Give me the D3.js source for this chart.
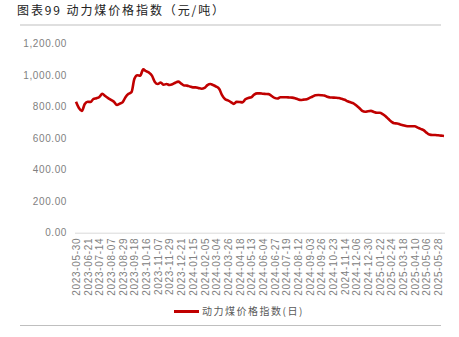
<!DOCTYPE html>
<html>
<head>
<meta charset="utf-8">
<script src="https://cdn.jsdelivr.net/npm/d3@7"></script>
<style>
  body { margin: 0; background: #fff; }
  svg { display: block; }
</style>
</head>
<body>
<script>
'use strict';

// tick labels on the category axis (every 4th data point)
const tickLabels = [
  '2023-05-30', '2023-06-21', '2023-07-14', '2023-08-07', '2023-08-29', '2023-09-18',
  '2023-10-16', '2023-11-07', '2023-11-29', '2023-12-21', '2024-01-15', '2024-02-05',
  '2024-03-04', '2024-03-26', '2024-04-18', '2024-05-13', '2024-06-04', '2024-06-27',
  '2024-07-19', '2024-08-12', '2024-09-03', '2024-09-26', '2024-10-23', '2024-11-14',
  '2024-12-06', '2024-12-30', '2025-01-22', '2025-02-24', '2025-03-18', '2025-04-10',
  '2025-05-06', '2025-05-28'
];
const tickStep = 4;

// 动力煤价格指数 (元/吨)
const coalIndex = [
  830, 790, 772, 815, 830, 828, 848, 852, 860, 880,
  866, 853, 842, 830, 809, 818, 828, 860, 880, 890,
  975, 998, 995, 1035, 1023, 1014, 995, 955, 942, 952,
  937, 942, 936, 940, 950, 957, 945, 933, 932, 926,
  921, 921, 916, 912, 917, 935, 942, 935, 926, 912,
  872, 847, 838, 828, 816, 829, 828, 826, 845, 854,
  858, 875, 883, 883, 880, 879, 878, 866, 854, 850,
  858, 858, 858, 857, 856, 852, 845, 841, 843, 845,
  854, 863, 871, 872, 871, 869, 861, 857, 856, 855,
  853, 848, 842, 833, 826, 820, 806, 790, 772, 766,
  770, 772, 765, 760, 760, 752, 738, 720, 703, 693,
  692, 686, 681, 676, 674, 674, 674, 666, 658, 650,
  634, 622, 619, 619, 617, 615, 613
];
const yTicks = [0, 200, 400, 600, 800, 1000, 1200];
const seriesName = '动力煤价格指数(日)';
const title = '图表99  动力煤价格指数（元/吨）';

const W = 459, H = 337;
const svg = d3.select('body').append('svg')
  .attr('width', W)
  .attr('height', H);

// title and frame lines
svg.append('text')
  .attr('x', 17)
  .attr('y', 14.5)
  .style('font-family', '"Noto Sans CJK SC", sans-serif')
  .style('font-size', '12px')
  .style('letter-spacing', '1.9px')
  .attr('fill', '#222')
  .text(title);

svg.append('line')
  .attr('x1', 20).attr('x2', 441)
  .attr('y1', 25).attr('y2', 25)
  .attr('stroke', '#bfbfbf').attr('stroke-width', 1);

svg.append('line')
  .attr('x1', 20).attr('x2', 441)
  .attr('y1', 325.5).attr('y2', 325.5)
  .attr('stroke', '#bfbfbf').attr('stroke-width', 1);

// scales
const x = d3.scaleLinear()
  .domain([0, coalIndex.length - 1])
  .range([76, 444]);

const y = d3.scaleLinear()
  .domain([0, 1200])
  .range([232.7, 43.3]);

// y axis (labels only)
const yAxis = d3.axisLeft(y)
  .tickValues(yTicks)
  .tickSize(0)
  .tickPadding(0)
  .tickFormat(d3.format(',.2f'));

const gy = svg.append('g')
  .attr('transform', 'translate(67,0)')
  .call(yAxis);
gy.select('.domain').remove();
gy.selectAll('text')
  .attr('fill', '#7f7f7f')
  .style('font-family', '"Liberation Sans", Arial, sans-serif')
  .style('font-size', '10px')
  .style('letter-spacing', '0.6px');

// x axis
const xAxis = d3.axisBottom(x)
  .tickValues(tickLabels.map((d, i) => i * tickStep))
  .tickSize(0)
  .tickPadding(0)
  .tickFormat((d) => tickLabels[d / tickStep]);

const gx = svg.append('g')
  .attr('transform', 'translate(0,' + y(0) + ')')
  .call(xAxis);
gx.select('.domain')
  .attr('d', 'M75,0.5H445')
  .attr('stroke', '#d9d9d9');
gx.selectAll('text')
  .attr('fill', '#808080')
  .style('font-family', '"Liberation Sans", Arial, sans-serif')
  .style('font-size', '10px')
  .style('letter-spacing', '0.7px')
  .style('text-anchor', 'end')
  .attr('dx', '-5px')
  .attr('dy', '0.35em')
  .attr('transform', 'rotate(-90)');

// line
const line = d3.line()
  .x((d, i) => x(i))
  .y((d) => y(d))
  .curve(d3.curveMonotoneX);

svg.append('path')
  .datum(coalIndex)
  .attr('d', line)
  .attr('fill', 'none')
  .attr('stroke', '#c00000')
  .attr('stroke-width', 2.6)
  .attr('stroke-linejoin', 'round');

// legend
svg.append('line')
  .attr('x1', 174).attr('x2', 199)
  .attr('y1', 311.5).attr('y2', 311.5)
  .attr('stroke', '#c00000')
  .attr('stroke-width', 3);

svg.append('text')
  .attr('x', 202)
  .attr('y', 315)
  .style('font-family', '"Noto Sans CJK SC", sans-serif')
  .style('font-size', '10px')
  .style('letter-spacing', '1.5px')
  .attr('fill', '#595959')
  .text(seriesName);
</script>
</body>
</html>
